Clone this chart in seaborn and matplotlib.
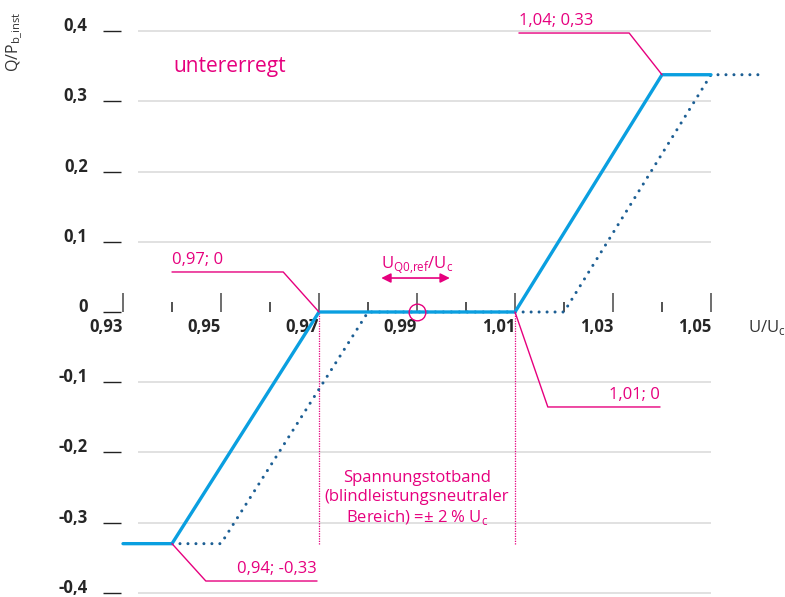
import matplotlib
matplotlib.use('Agg')
import matplotlib.pyplot as plt
import seaborn as sns
import pandas as pd

# Q(U)-Kennlinie, Werte
u_solid = [0.93, 0.94, 0.97, 1.01, 1.04, 1.05]
q_solid = [-0.33, -0.33, 0.0, 0.0, 0.338, 0.338]
u_shift = [0.94, 0.95, 0.98, 1.02, 1.05, 1.06]
q_shift = [-0.33, -0.33, 0.0, 0.0, 0.338, 0.338]

x_major = [0.93, 0.95, 0.97, 0.99, 1.01, 1.03, 1.05]
x_minor = [0.94, 0.96, 0.98, 1.00, 1.02, 1.04]
x_labels = ['0,93', '0,95', '0,97', '0,99', '1,01', '1,03', '1,05']
y_ticks = [0.4, 0.3, 0.2, 0.1, 0.0, -0.1, -0.2, -0.3, -0.4]
y_labels = ['0,4', '0,3', '0,2', '0,1', '0', '-0,1', '-0,2', '-0,3', '-0,4']

u_ref = 0.99
band = [0.97, 1.01]
q_band_min = -0.33

# Eckpunkte mit Beschriftung
corner_u = [0.97, 1.04, 1.01, 0.94]
corner_q = [0.0, 0.338, 0.0, -0.33]
corner_txt = ['0,97; 0', '1,04; 0,33', '1,01; 0', '0,94; -0,33']

PINK = '#e6007e'
BLUE = '#0a9fe0'
DARKBLUE = '#1d5f94'

sns.set_style('white')
plt.rcParams['font.family'] = ['Open Sans', 'DejaVu Sans']

fig = plt.figure(figsize=(7.85, 5.97), dpi=100)
ax = fig.add_axes([121 / 785, 0, 1 - 121 / 785, 1])
ax.set_xlim(0.929592, 1.065102)
ax.set_ylim(-0.40598, 0.44444)

# Gitterlinien (ohne Nulllinie)
for y in y_ticks:
    if y != 0:
        ax.hlines(y, 0.933, 1.05, color='#dcdcdc', lw=1.2, zorder=0)

df_shift = pd.DataFrame({'u': u_shift, 'q': q_shift})
df_solid = pd.DataFrame({'u': u_solid, 'q': q_solid})
sns.lineplot(data=df_shift, x='u', y='q', ax=ax, color=DARKBLUE, lw=2.2,
             linestyle=(0, (0.01, 2.6)), dash_capstyle='round',
             estimator=None, sort=False, zorder=2)
sns.lineplot(data=df_solid, x='u', y='q', ax=ax, color=BLUE, lw=2.4,
             estimator=None, sort=False, zorder=3, solid_joinstyle='miter')

# Achsen
for s in ['top', 'right', 'left']:
    ax.spines[s].set_visible(False)
ax.spines['bottom'].set_position(('data', 0))
ax.spines['bottom'].set_color('none')

ax.set_xticks(x_major)
ax.set_xticks(x_minor, minor=True)
ax.set_xticklabels(x_labels, fontsize=12, fontweight='bold', ha='right')
ax.tick_params(axis='x', which='major', direction='in', length=14, width=1.2,
               color='#555555', pad=4, bottom=True)
ax.tick_params(axis='x', which='minor', direction='in', length=7, width=1.2,
               color='#333333', bottom=True)

ax.set_yticks(y_ticks)
ax.set_yticklabels(y_labels, fontsize=12, fontweight='bold')
ax.tick_params(axis='y', which='major', direction='out', length=13, width=1.0,
               color='#222222', pad=11, left=True)
for lab in ax.get_yticklabels():
    lab.set_va('baseline')
ax.set_xlabel('')
ax.set_ylabel('')

fig.text(15 / 785, 1 - 42 / 597, r'Q/P$_{\mathregular{b\_inst}}$', rotation=90,
         ha='center', va='center', fontsize=11.5, color='#333333')
ax.text(1.0576, -0.0285, r'U/U$_{\mathregular{c}}$', fontsize=12,
        color='#333333', va='baseline', ha='left')

ax.text(0.9402, 0.3419, 'untererregt', fontsize=15, color=PINK, va='baseline')

# Totband
ax.vlines(band, q_band_min, 0, color=PINK, lw=0.9, linestyle=(0, (1, 1)), zorder=1)
ax.text(sum(band) / 2, -0.266,
        'Spannungstotband\n(blindleistungsneutraler\nBereich) =± 2 % U$_{\\mathregular{c}}$',
        ha='center', va='center', fontsize=12, color=PINK, linespacing=1.25)

# Referenzspannung
ax.plot([u_ref], [0], marker='o', ms=12, mfc='none', mec=PINK, mew=1.0, zorder=4)
ax.annotate('', xy=(u_ref - 0.0073, 0.0484), xytext=(u_ref + 0.0067, 0.0484),
            arrowprops=dict(arrowstyle='<|-|>', color=PINK, lw=1.2,
                            mutation_scale=14, shrinkA=0, shrinkB=0))
ax.text(u_ref, 0.0627, r'U$_{\mathregular{Q0{,}ref}}$/U$_{\mathregular{c}}$',
        ha='center', va='baseline', fontsize=12, color=PINK)

# Beschriftung der Eckpunkte: Versatz zum Knick, Länge der Linie
callouts = [(-0.0073, 0.057, -0.0227, 'left'),
            (-0.0067, 0.0594, -0.0225, 'left'),
            (0.0067, -0.1353, 0.0229, 'right'),
            (0.0069, -0.0532, 0.0227, 'right')]
for u, q, txt, (dx, dy, ln, side) in zip(corner_u, corner_q, corner_txt, callouts):
    ex, ey = u + dx, q + dy
    ax.plot([u, ex, ex + ln], [q, ey, ey], color=PINK, lw=1.0, zorder=4)
    ax.text(ex + ln, ey + 0.011, txt, ha=side, va='baseline', fontsize=12, color=PINK)

fig.savefig('out.png', dpi=100)
